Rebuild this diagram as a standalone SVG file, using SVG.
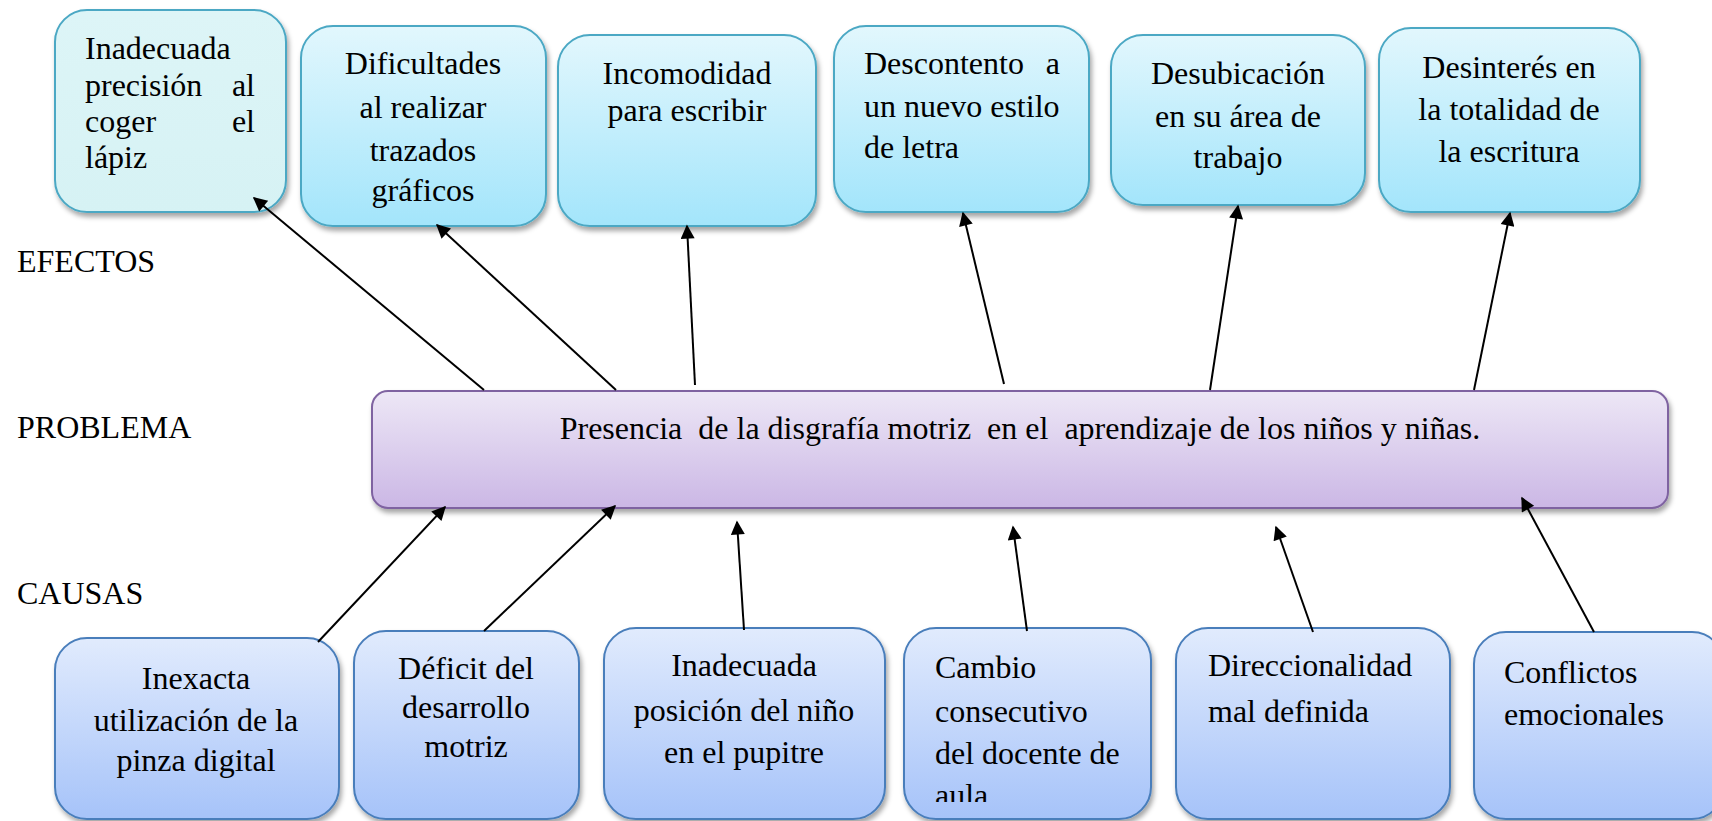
<svg xmlns="http://www.w3.org/2000/svg" width="1712" height="821" viewBox="0 0 1712 821">
<defs>
<linearGradient id="gEff" x1="0" y1="0" x2="0" y2="1"><stop offset="0" stop-color="#e2f7fd"/><stop offset="1" stop-color="#a3e5fb"/></linearGradient>
<linearGradient id="gEff1" x1="0" y1="0" x2="0" y2="1"><stop offset="0" stop-color="#ddf5f7"/><stop offset="1" stop-color="#d6f2f4"/></linearGradient>
<linearGradient id="gProb" x1="0" y1="0" x2="0" y2="1"><stop offset="0" stop-color="#ede7f6"/><stop offset="1" stop-color="#cbb7e5"/></linearGradient>
<linearGradient id="gCau" x1="0" y1="0" x2="0" y2="1"><stop offset="0" stop-color="#e1ebfd"/><stop offset="1" stop-color="#a6c3f9"/></linearGradient>
<filter id="sh" x="-10%" y="-10%" width="120%" height="130%"><feDropShadow dx="2" dy="4" stdDeviation="2.5" flood-color="#000" flood-opacity="0.35"/></filter>
<marker id="ah" viewBox="0 0 10 10" refX="9" refY="5" markerWidth="16" markerHeight="14" markerUnits="userSpaceOnUse" orient="auto"><path d="M0,0 L10,5 L0,10 z" fill="#000"/></marker>
<clipPath id="c4clip"><rect x="900" y="620" width="260" height="182"/></clipPath>
</defs>
<style>
.t{font-family:"Liberation Serif","Times New Roman",serif;font-size:32px;fill:#000}
.m{text-anchor:middle}
.eff{fill:url(#gEff);stroke:#4ba8c4;stroke-width:2;filter:url(#sh)}
.eff1{fill:url(#gEff1);stroke:#4ba8c4;stroke-width:2;filter:url(#sh)}
.prob{fill:url(#gProb);stroke:#7f63a1;stroke-width:2;filter:url(#sh)}
.cau{fill:url(#gCau);stroke:#4a7ebb;stroke-width:2;filter:url(#sh)}
.ln{stroke:#000;stroke-width:2;fill:none;marker-end:url(#ah)}
</style>
<rect width="1712" height="821" fill="#fff"/>

<g id="labels">
<text class="t" x="17" y="272">EFECTOS</text>
<text class="t" x="17" y="438">PROBLEMA</text>
<text class="t" x="17" y="604">CAUSAS</text>
</g>

<g id="e1"><rect class="eff1" x="55" y="10" width="231" height="202" rx="32"/>
<text class="t" x="85" y="59">Inadecuada</text>
<text class="t" x="85" y="96">precisión</text><text class="t" x="255" y="96" text-anchor="end">al</text>
<text class="t" x="85" y="132">coger</text><text class="t" x="255" y="132" text-anchor="end">el</text>
<text class="t" x="85" y="168">lápiz</text></g>

<g id="e2"><rect class="eff" x="301" y="26" width="245" height="200" rx="32"/>
<text class="t m" x="423" y="74">Dificultades</text>
<text class="t m" x="423" y="118">al realizar</text>
<text class="t m" x="423" y="161">trazados</text>
<text class="t m" x="423" y="201">gráficos</text></g>

<g id="e3"><rect class="eff" x="558" y="35" width="258" height="191" rx="32"/>
<text class="t m" x="687" y="84">Incomodidad</text>
<text class="t m" x="687" y="121">para escribir</text></g>

<g id="e4"><rect class="eff" x="834" y="26" width="255" height="186" rx="32"/>
<text class="t" x="864" y="74">Descontento</text><text class="t" x="1060" y="74" text-anchor="end">a</text>
<text class="t" x="864" y="117">un nuevo estilo</text>
<text class="t" x="864" y="158">de letra</text></g>

<g id="e5"><rect class="eff" x="1111" y="35" width="254" height="170" rx="32"/>
<text class="t m" x="1238" y="84">Desubicación</text>
<text class="t m" x="1238" y="127">en su área de</text>
<text class="t m" x="1238" y="168">trabajo</text></g>

<g id="e6"><rect class="eff" x="1379" y="28" width="261" height="184" rx="32"/>
<text class="t m" x="1509" y="78">Desinterés en</text>
<text class="t m" x="1509" y="120">la totalidad de</text>
<text class="t m" x="1509" y="162">la escritura</text></g>

<g id="problem"><rect class="prob" x="372" y="391" width="1296" height="117" rx="16"/>
<text class="t m" x="1020" y="439" xml:space="preserve">Presencia  de la disgrafía motriz  en el  aprendizaje de los niños y niñas.</text></g>

<g id="c1"><rect class="cau" x="55" y="638" width="284" height="181" rx="32"/>
<text class="t m" x="196" y="689">Inexacta</text>
<text class="t m" x="196" y="731">utilización de la</text>
<text class="t m" x="196" y="771">pinza digital</text></g>

<g id="c2"><rect class="cau" x="354" y="631" width="225" height="188" rx="32"/>
<text class="t m" x="466" y="679">Déficit del</text>
<text class="t m" x="466" y="718">desarrollo</text>
<text class="t m" x="466" y="757">motriz</text></g>

<g id="c3"><rect class="cau" x="604" y="628" width="281" height="191" rx="32"/>
<text class="t m" x="744" y="676">Inadecuada</text>
<text class="t m" x="744" y="721">posición del niño</text>
<text class="t m" x="744" y="763">en el pupitre</text></g>

<g id="c4"><rect class="cau" x="904" y="628" width="247" height="191" rx="32"/>
<g clip-path="url(#c4clip)">
<text class="t" x="935" y="678">Cambio</text>
<text class="t" x="935" y="722">consecutivo</text>
<text class="t" x="935" y="764">del docente de</text>
<text class="t" x="935" y="806">aula</text></g></g>

<g id="c5"><rect class="cau" x="1176" y="628" width="274" height="191" rx="32"/>
<text class="t" x="1208" y="676">Direccionalidad</text>
<text class="t" x="1208" y="722">mal definida</text></g>

<g id="c6"><rect class="cau" x="1474" y="632" width="250" height="187" rx="32"/>
<text class="t" x="1504" y="683">Conflictos</text>
<text class="t" x="1504" y="725">emocionales</text></g>

<g id="connectors">
<line class="ln" x1="484" y1="390" x2="254" y2="198"/>
<line class="ln" x1="616" y1="390" x2="437" y2="225"/>
<line class="ln" x1="695" y1="385" x2="687" y2="226"/>
<line class="ln" x1="1004" y1="384" x2="963" y2="213"/>
<line class="ln" x1="1210" y1="390" x2="1238" y2="206"/>
<line class="ln" x1="1474" y1="390" x2="1510" y2="213"/>
<line class="ln" x1="318" y1="642" x2="445" y2="507"/>
<line class="ln" x1="484" y1="631" x2="615" y2="506"/>
<line class="ln" x1="744" y1="630" x2="737" y2="522"/>
<line class="ln" x1="1027" y1="631" x2="1013" y2="527"/>
<line class="ln" x1="1313" y1="632" x2="1276" y2="527"/>
<line class="ln" x1="1594" y1="632" x2="1522" y2="498"/>
</g>
</svg>
